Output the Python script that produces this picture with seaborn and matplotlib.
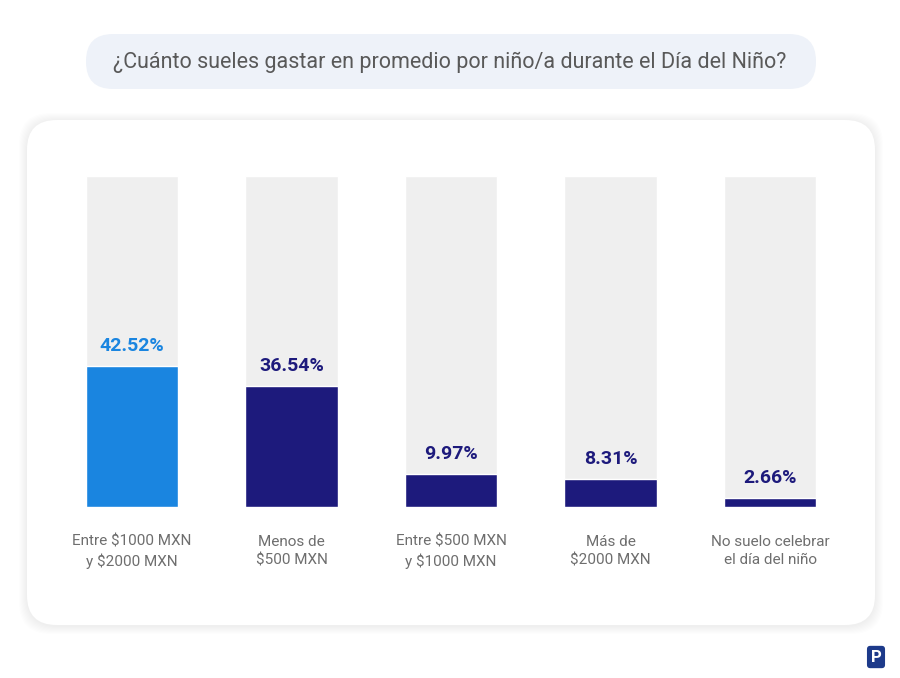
import numpy as np
import pandas as pd
import matplotlib.pyplot as plt
import seaborn as sns
from matplotlib.patches import FancyBboxPatch

#------------DATA----------
categories = ["Entre $1000 MXN\ny $2000 MXN", "Menos de\n$500 MXN",
              "Entre $500 MXN\ny $1000 MXN", "Más de\n$2000 MXN",
              "No suelo celebrar\nel día del niño"]
values = [42.52, 36.54, 9.97, 8.31, 2.66]
track = [100, 100, 100, 100, 100]
bar_colors = ["#1a85e0", "#1d1a7c", "#1d1a7c", "#1d1a7c", "#1d1a7c"]
title = "¿Cuánto sueles gastar en promedio por niño/a durante el Día del Niño?"

df = pd.DataFrame({"cat": categories, "value": values, "track": track})

sns.set_style("white")
plt.rcParams['font.family'] = ['Roboto', 'DejaVu Sans']

W, H = 900, 678
fig = plt.figure(figsize=(9, 6.78), dpi=100)
fig.patch.set_facecolor("white")

def fx(px):
    return px / W

def fy(py):
    return 1 - py / H

#-------card with soft shadow--------
for g in range(8, 0, -1):
    sh = FancyBboxPatch((fx(27 - g), fy(625 + g + 1)), fx(848 + 2 * g), (505 + 2 * g) / H,
                        boxstyle="round,pad=0,rounding_size=0.035",
                        transform=fig.transFigure, facecolor="black", edgecolor="none",
                        alpha=0.008, zorder=0, mutation_aspect=W / H)
    fig.patches.append(sh)
card = FancyBboxPatch((fx(27), fy(625)), fx(848), 505 / H,
                      boxstyle="round,pad=0,rounding_size=0.033",
                      transform=fig.transFigure, facecolor="white", edgecolor="none",
                      zorder=1, mutation_aspect=W / H)
fig.patches.append(card)

#-------title pill--------
pill = FancyBboxPatch((fx(86), fy(89)), fx(730), 55 / H,
                      boxstyle="round,pad=0,rounding_size=0.03",
                      transform=fig.transFigure, facecolor="#eef2f9", edgecolor="none",
                      zorder=1, mutation_aspect=W / H)
fig.patches.append(pill)
fig.text(0.5, fy(62), title, ha="center", va="center", fontsize=15.5,
         color="#595959", zorder=3)

#-------bars--------
ax = fig.add_axes([fx(52.25), fy(507), fx(797.5), 331 / H])
ax.set_facecolor("none")
ax.set_zorder(2)
sns.barplot(data=df, x="cat", y="track", color="#efefef", width=0.577,
            saturation=1, ax=ax)
sns.barplot(data=df, x="cat", y="value", hue="cat", palette=bar_colors,
            width=0.577, saturation=1, legend=False, ax=ax)
ax.set_ylim(0, 100)
ax.set_xlim(-0.5, 4.5)

for i, v in enumerate(values):
    ax.annotate(f"{v:.2f}%", (i, v), xytext=(0, 8), textcoords="offset points",
                ha="center", va="bottom", fontsize=14, fontweight="bold",
                color=bar_colors[i])

ax.set_xlabel("")
ax.set_ylabel("")
ax.set_yticks([])
ax.tick_params(axis="x", length=0, pad=20, labelsize=11, labelcolor="#6e6e6e")
for lab in ax.get_xticklabels():
    lab.set_linespacing(1.4)
sns.despine(ax=ax, left=True, bottom=True)

#-------logo--------
fig.text(fx(876), fy(657), "P", ha="center", va="center", fontsize=12,
         fontweight="bold", color="white",
         bbox=dict(boxstyle="round,pad=0.22,rounding_size=0.2", facecolor="#1d3a8a", edgecolor="none"))

plt.savefig("out.png", dpi=100)
plt.close()
